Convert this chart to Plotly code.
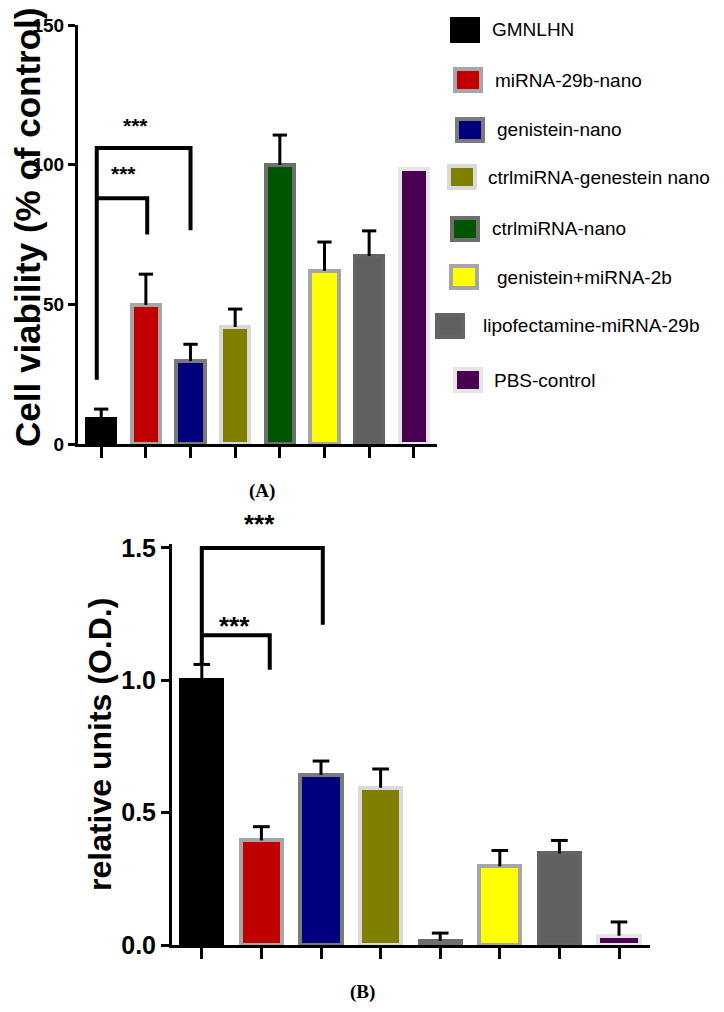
import plotly.graph_objects as go

# ---------------- data ----------------
groups = ["GMNLHN", "miRNA-29b-nano", "genistein-nano", "ctrlmiRNA-genestein nano",
          "ctrlmiRNA-nano", "genistein+miRNA-2b", "lipofectamine-miRNA-29b", "PBS-control"]
viability = [9.0, 49.8, 29.7, 41.9, 99.9, 62.0, 67.3, 98.5]
viability_err = [3.5, 11.0, 6.0, 6.4, 10.7, 10.3, 9.0, 0]
od_units = [1.0, 0.395, 0.643, 0.594, 0.015, 0.297, 0.346, 0.035]
od_err = [0.06, 0.052, 0.052, 0.071, 0.03, 0.06, 0.049, 0.052]
yticks_A = [0, 50, 100, 150]
yticks_B = [0, 0.5, 1.0, 1.5]
# significance brackets: (left group, right group, bracket height, right-leg end, left-leg start, label)
sig_A = [(0, 1, 88, 75, 88, "***"), (0, 2, 106, 76.5, 23, "***")]
sig_B = [(0, 1, 1.17, 1.04, 1.17, "***"), (0, 2, 1.5, 1.21, 1.06, "***")]

# ---------------- style ----------------
fills = ["#000000", "#c00000", "#00007f", "#7f7f00", "#005500", "#ffff00", "#606060", "#4a0050"]
borders = ["#000000", "#a6a6a6", "#7a7a7a", "#d9d9d9", "#6e6e6e", "#a6a6a6", "#646464", "#e6e6e6"]
W, H = 724, 1012
OFF = 8  # page body margin
SANS = "Liberation Sans, Arial, sans-serif"
YMAX_A, YMAX_B = 150, 1.515
# legend layout (pixels): square left edge, text left edge, row centre
leg_sq_x = [450, 453, 455, 447, 450, 449, 435, 453]
leg_tx_x = [490, 493, 495, 486, 490, 495, 481, 492]
leg_row_y = [30, 80, 130, 177, 229, 277, 326, 380]


def px(x):
    return (x - OFF) / W


def py(y):
    return 1 - (y - OFF) / H


idx = list(range(len(groups)))


def err_path(vals, errs, cap):
    xs, ys = [], []
    for i, (v, e) in enumerate(zip(vals, errs)):
        if e <= 0:
            continue
        xs += [i, i, None, i - cap, i + cap, None]
        ys += [v, v + e, None, v + e, v + e, None]
    return xs, ys


fig = go.Figure()

for vals, errs, xa, ya, bw, cap in [
    (viability, viability_err, "x", "y", 0.63, 0.16),
    (od_units, od_err, "x2", "y2", 0.69, 0.14),
]:
    fig.add_trace(go.Bar(
        x=idx, y=vals, width=bw, xaxis=xa, yaxis=ya,
        marker=dict(color=fills, line=dict(color=borders, width=4)),
        hoverinfo="skip",
    ))
    ex, ey = err_path(vals, errs, cap)
    fig.add_trace(go.Scatter(
        x=ex, y=ey, mode="lines", xaxis=xa, yaxis=ya,
        line=dict(color="black", width=3), hoverinfo="skip", cliponaxis=False,
    ))

# significance brackets
for sig, xa, ya, loff, roff in [
    (sig_A, "x", "y", [-0.1, -0.1], [0.03, 0.0]),
    (sig_B, "x2", "y2", [0.0, 0.0], [0.14, 0.03]),
]:
    for k, (g0, g1, top, rend, lstart, lab) in enumerate(sig):
        xl = g0 + loff[k]
        xr = g1 + roff[k]
        fig.add_trace(go.Scatter(
            x=[xl, xl, xr, xr], y=[lstart, top, top, rend], mode="lines",
            xaxis=xa, yaxis=ya, line=dict(color="black", width=4),
            hoverinfo="skip", cliponaxis=False,
        ))

star_pos_A = [(0.49, 97), (0.76, 114)]
star_pos_B = [(0.55, 1.205), (0.96, 1.59)]
annotations = []
for pos, xr, yr, ymax, fs in [(star_pos_A, "x", "y domain", YMAX_A, 21),
                              (star_pos_B, "x2", "y2 domain", YMAX_B, 26)]:
    for (sx, sy) in pos:
        annotations.append(dict(x=sx, y=sy / ymax, xref=xr, yref=yr, text="***", showarrow=False,
                                font=dict(family=SANS, size=fs, color="black", weight="bold"),
                                xanchor="center", yanchor="middle"))

# axis titles
annotations.append(dict(x=px(28), y=py(228), xref="paper", yref="paper",
                        text="Cell viability (% of control)", textangle=-90, showarrow=False,
                        font=dict(family=SANS, size=35, color="black", weight="bold"),
                        xanchor="center", yanchor="middle"))
annotations.append(dict(x=px(100), y=py(745), xref="paper", yref="paper",
                        text="relative units (O.D.)", textangle=-90, showarrow=False,
                        font=dict(family=SANS, size=32, color="black", weight="bold"),
                        xanchor="center", yanchor="middle"))
# panel labels
for lab, lx, ly in [("(A)", 262, 491), ("(B)", 362, 992)]:
    annotations.append(dict(x=px(lx), y=py(ly), xref="paper", yref="paper", text=lab,
                            showarrow=False,
                            font=dict(family="Liberation Serif", size=19, color="black", weight="bold"),
                            xanchor="center", yanchor="middle"))

# manual legend
shapes = []
for i, name in enumerate(groups):
    cy = leg_row_y[i]
    sx = leg_sq_x[i]
    shapes.append(dict(type="rect", xref="paper", yref="paper",
                       x0=px(sx + 2), x1=px(sx + 28), y0=py(cy + 11), y1=py(cy - 11),
                       fillcolor=fills[i], line=dict(color=borders[i], width=4)))
    annotations.append(dict(x=px(leg_tx_x[i]), y=py(cy), xref="paper", yref="paper", text=name,
                            showarrow=False, xanchor="left", yanchor="middle",
                            font=dict(family=SANS, size=19, color="black")))

axis_common = dict(showline=True, linewidth=3, linecolor="black", showgrid=False,
                   zeroline=False, ticks="outside", tickwidth=3, tickcolor="black",
                   automargin=False)

fig.update_layout(
    width=W, height=H, margin=dict(l=0, r=0, t=0, b=0, pad=0, autoexpand=False),
    paper_bgcolor="white", plot_bgcolor="white", showlegend=False,
    xaxis=dict(domain=[px(78), px(437)], range=[-0.52, 7.52], tickvals=idx,
               showticklabels=False, ticklen=11, anchor="y", **axis_common),
    yaxis=dict(domain=[py(444), py(25)], range=[0, YMAX_A], tickvals=yticks_A, ticklen=7,
               anchor="x", tickfont=dict(family=SANS, size=19, color="black", weight="bold"),
               **axis_common),
    xaxis2=dict(domain=[px(172), px(650)], range=[-0.5, 7.52], tickvals=idx,
                showticklabels=False, ticklen=11, anchor="y2", **axis_common),
    yaxis2=dict(domain=[py(945), py(544)], range=[0, YMAX_B], tickvals=yticks_B, tickformat=".1f",
                ticklen=8, anchor="x2", tickfont=dict(family=SANS, size=25, color="black", weight="bold"),
                **axis_common),
    annotations=annotations, shapes=shapes, bargap=0,
)

fig.write_html("out.html")
